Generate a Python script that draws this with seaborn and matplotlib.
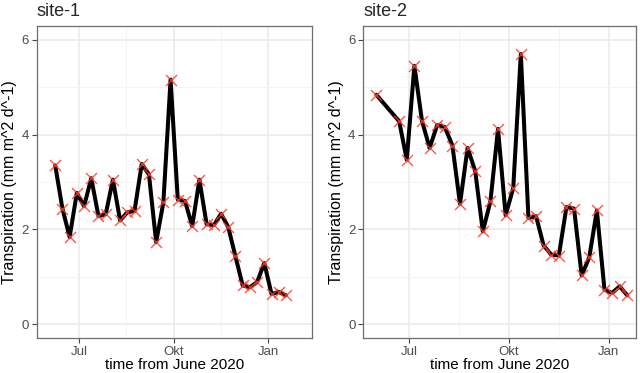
import matplotlib
matplotlib.use("Agg")
import matplotlib.pyplot as plt
import seaborn as sns
import pandas as pd

# ---------------- data ----------------
site1_dates = ["2020-06-08", "2020-06-15", "2020-06-22", "2020-06-29", "2020-07-06",
               "2020-07-13", "2020-07-20", "2020-07-27", "2020-08-03", "2020-08-10",
               "2020-08-17", "2020-08-24", "2020-08-31", "2020-09-07", "2020-09-14",
               "2020-09-21", "2020-09-28", "2020-10-05", "2020-10-12", "2020-10-19",
               "2020-10-26", "2020-11-02", "2020-11-09", "2020-11-16", "2020-11-23",
               "2020-11-30", "2020-12-07", "2020-12-14", "2020-12-21", "2020-12-28",
               "2021-01-04", "2021-01-11", "2021-01-18"]
site1_values = [3.35, 2.44, 1.84, 2.77, 2.49, 3.08, 2.28, 2.32, 3.05, 2.19,
                2.36, 2.39, 3.38, 3.16, 1.73, 2.57, 5.16, 2.63, 2.60, 2.07,
                3.05, 2.11, 2.09, 2.33, 2.05, 1.43, 0.82, 0.78, 0.89, 1.29,
                0.64, 0.68, 0.61]

site2_dates = ["2020-06-01", "2020-06-22", "2020-06-29", "2020-07-06", "2020-07-13",
               "2020-07-20", "2020-07-27", "2020-08-03", "2020-08-10", "2020-08-17",
               "2020-08-24", "2020-08-31", "2020-09-07", "2020-09-14", "2020-09-21",
               "2020-09-28", "2020-10-05", "2020-10-12", "2020-10-19", "2020-10-26",
               "2020-11-02", "2020-11-09", "2020-11-16", "2020-11-23", "2020-11-30",
               "2020-12-07", "2020-12-14", "2020-12-21", "2020-12-28", "2021-01-04",
               "2021-01-11", "2021-01-18"]
site2_values = [4.84, 4.28, 3.47, 5.45, 4.29, 3.72, 4.20, 4.16, 3.77, 2.54,
                3.72, 3.23, 1.96, 2.59, 4.12, 2.30, 2.87, 5.70, 2.24, 2.28,
                1.66, 1.47, 1.45, 2.47, 2.44, 1.03, 1.41, 2.40, 0.73, 0.66,
                0.80, 0.61]

x_tick_dates = ["2020-07-01", "2020-10-01", "2021-01-01"]
x_tick_labels = ["Jul", "Okt", "Jan"]
x_minor_dates = ["2020-08-16", "2020-11-16"]
y_ticks = [0, 2, 4, 6]
y_minor = [1, 3, 5]

titles = ["site-1", "site-2"]
x_label = "time from June 2020"
y_label = "Transpiration (mm m^2 d^-1)"

# ---------------- style ----------------
sns.set_style("white")
plt.rcParams["font.family"] = ["Liberation Sans", "DejaVu Sans"]

fig = plt.figure(figsize=(6.4, 3.73), dpi=100)
ax1 = fig.add_axes([0.0573, 0.0925, 0.4297, 0.839])
ax2 = fig.add_axes([0.5677, 0.0925, 0.426, 0.839])

xlims = [("2020-05-21", "2021-02-12"), ("2020-05-20", "2021-01-26")]

datasets = [(site1_dates, site1_values), (site2_dates, site2_values)]

for ax, (d, v), title, xl in zip([ax1, ax2], datasets, titles, xlims):
    df = pd.DataFrame({"date": pd.to_datetime(d), "value": v})
    sns.lineplot(data=df, x="date", y="value", ax=ax, color="black",
                 linewidth=2.9, zorder=3)
    sns.scatterplot(data=df, x="date", y="value", ax=ax, marker="x",
                    color="#ff3b2b", s=62, linewidth=1.0, alpha=0.85, zorder=4)

    ax.set_xlim(pd.Timestamp(xl[0]), pd.Timestamp(xl[1]))
    ax.set_ylim(-0.3, 6.3)

    ax.set_xticks(pd.to_datetime(x_tick_dates))
    ax.set_xticklabels(x_tick_labels)
    ax.set_xticks(pd.to_datetime(x_minor_dates), minor=True)
    ax.set_yticks(y_ticks)
    ax.set_yticks(y_minor, minor=True)

    ax.grid(True, which="major", color="#EBEBEB", linewidth=1.2)
    ax.grid(True, which="minor", color="#F4F4F4", linewidth=0.7)
    ax.set_axisbelow(True)

    for s in ax.spines.values():
        s.set_color("#6e6e6e")
        s.set_linewidth(0.9)

    ax.tick_params(which="major", direction="out", length=3.5, width=0.8,
                   color="#444444", labelcolor="#4d4d4d", labelsize=9.5, pad=2.2,
                   bottom=True, left=True)
    ax.tick_params(which="minor", length=0)

    ax.set_xlabel(x_label, fontsize=11, color="black", labelpad=-0.5)
    ax.set_ylabel(y_label, fontsize=11.5, color="black", labelpad=3)
    ax.set_title(title, loc="left", fontsize=13, pad=7)

fig.savefig("out.png", dpi=100)
